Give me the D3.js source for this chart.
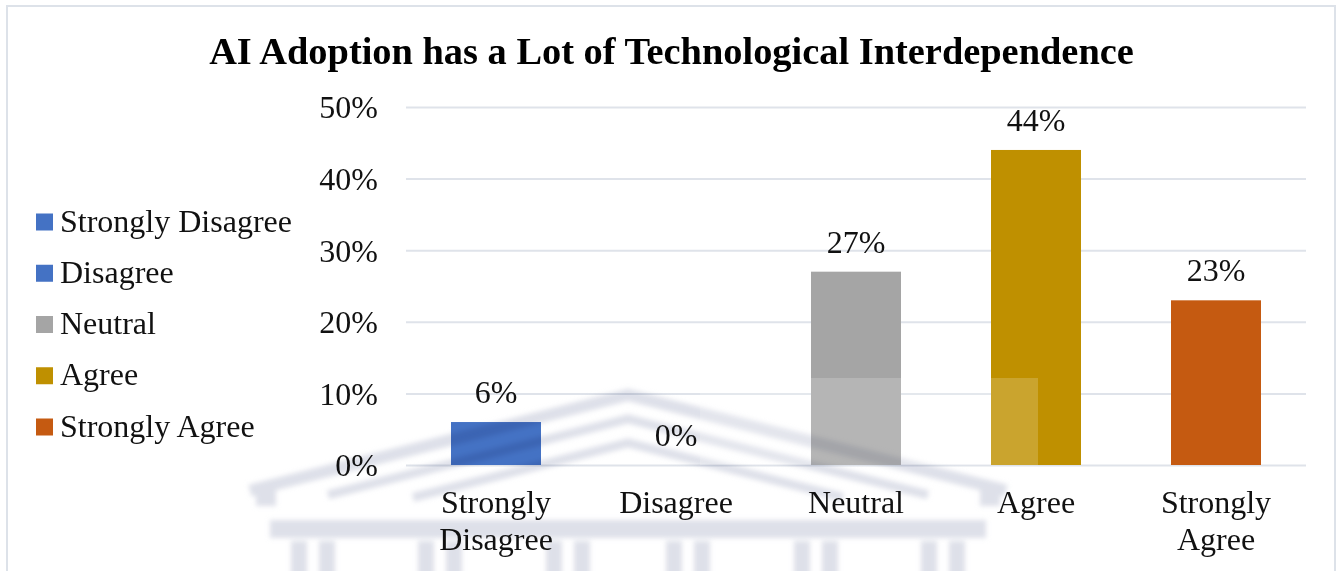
<!DOCTYPE html>
<html>
<head>
<meta charset="utf-8">
<script src="https://cdn.jsdelivr.net/npm/d3@7"></script>
<style>
  html, body { margin: 0; padding: 0; background: #ffffff; }
  svg { display: block; }
  text { font-family: "Liberation Serif", "Times New Roman", serif; }
</style>
</head>
<body>
<svg id="chart" width="1343" height="571"></svg>
<script>
// Survey responses: share of respondents per answer
const categories = ["Strongly Disagree", "Disagree", "Neutral", "Agree", "Strongly Agree"];
const categoryLines = [["Strongly", "Disagree"], ["Disagree"], ["Neutral"], ["Agree"], ["Strongly", "Agree"]];
const shares = [0.06, 0.00, 0.27, 0.44, 0.23];
const barColors = ["#4472C4", "#4472C4", "#A5A5A5", "#BF9000", "#C55A11"];
const yTicks = [0, 0.1, 0.2, 0.3, 0.4, 0.5];
const titleText = "AI Adoption has a Lot of Technological Interdependence";

const FS = 32; // body text size
const svg = d3.select("#chart");

// chart frame
svg.append("rect")
  .attr("x", 7).attr("y", 6).attr("width", 1328).attr("height", 580)
  .attr("fill", "#ffffff").attr("stroke", "#dde2e9").attr("stroke-width", 2);

const plot = { left: 406, right: 1306, top: 107, bottom: 465 };

const x = d3.scaleBand()
  .domain(categories)
  .range([plot.left, plot.right])
  .paddingInner(0.5)
  .paddingOuter(0.25);

const y = d3.scaleLinear()
  .domain([0, 0.5])
  .range([plot.bottom, plot.top]);

const color = d3.scaleOrdinal().domain(categories).range(barColors);
const pct = d3.format(".0%");

// horizontal gridlines + tick labels
const yAxis = d3.axisLeft(y)
  .tickValues(yTicks)
  .tickFormat(pct)
  .tickSize(-(plot.right - plot.left))
  .tickPadding(28);

const gy = svg.append("g")
  .attr("transform", `translate(${plot.left},0)`)
  .call(yAxis);
gy.select(".domain").remove();
gy.selectAll(".tick line").attr("stroke", "#dfe3ea").attr("stroke-width", 2);
gy.selectAll(".tick text")
  .attr("font-family", "'Liberation Serif', 'Times New Roman', serif")
  .attr("font-size", FS)
  .attr("fill", "#111111")
  .attr("dy", "0.34em");

// bars
const data = categories.map((c, i) => ({ cat: c, value: shares[i], lines: categoryLines[i] }));

svg.append("g").selectAll("rect")
  .data(data)
  .join("rect")
  .attr("x", d => x(d.cat))
  .attr("width", x.bandwidth())
  .attr("y", d => y(d.value))
  .attr("height", d => y(0) - y(d.value))
  .attr("fill", d => color(d.cat));

// faint building emblem laid over the lower part of the plot
const defs = svg.append("defs");
defs.append("filter").attr("id", "soft")
  .attr("x", "-10%").attr("y", "-10%").attr("width", "120%").attr("height", "120%")
  .append("feGaussianBlur").attr("stdDeviation", 2.6);
const emblem = svg.append("g")
  .style("mix-blend-mode", "multiply")
  .attr("filter", "url(#soft)")
  .attr("opacity", 0.75);

const ink = "#d3d6e2";
const apexX = 628, slope = 0.253;
[[395, 12, 378], [419, 9, 300], [443, 9, 215]].forEach(([ay, w, half]) => {
  emblem.append("path")
    .attr("d", `M${apexX - half},${ay + half * slope} L${apexX},${ay} L${apexX + half},${ay + half * slope}`)
    .attr("fill", "none").attr("stroke", ink).attr("stroke-width", w)
    .attr("stroke-linejoin", "miter");
});
emblem.append("rect").attr("x", 256).attr("y", 484).attr("width", 20).attr("height", 22).attr("fill", ink);
emblem.append("rect").attr("x", 980).attr("y", 484).attr("width", 20).attr("height", 22).attr("fill", ink);
emblem.append("rect").attr("x", 270).attr("y", 520).attr("width", 716).attr("height", 18).attr("fill", ink);
[-315, -188, -60, 60, 188, 315].forEach(off => {
  const cx = apexX + off;
  emblem.append("rect").attr("x", cx - 22).attr("y", 541).attr("width", 16).attr("height", 40).attr("fill", ink);
  emblem.append("rect").attr("x", cx + 6).attr("y", 541).attr("width", 16).attr("height", 40).attr("fill", ink);
});

// pale patch over the lower bars
svg.append("rect")
  .attr("x", 700).attr("y", 378).attr("width", 338).attr("height", 87)
  .attr("fill", "#ffffff").attr("opacity", 0.18);

// value labels
svg.append("g").selectAll("text")
  .data(data)
  .join("text")
  .attr("x", d => x(d.cat) + x.bandwidth() / 2)
  .attr("y", d => y(d.value) - 19)
  .attr("text-anchor", "middle")
  .attr("font-size", FS)
  .attr("fill", "#111111")
  .text(d => pct(d.value));

// category labels (wrapped)
const xl = svg.append("g").selectAll("text")
  .data(data)
  .join("text")
  .attr("text-anchor", "middle")
  .attr("font-size", FS)
  .attr("fill", "#111111");
xl.selectAll("tspan")
  .data(d => d.lines.map(l => ({ l, cx: x(d.cat) + x.bandwidth() / 2 })))
  .join("tspan")
  .attr("x", t => t.cx)
  .attr("y", (t, i) => 513 + i * 37)
  .text(t => t.l);

// legend
const legend = svg.append("g");
const legendY = d3.scalePoint().domain(categories).range([222, 427]);
categories.forEach(c => {
  legend.append("rect")
    .attr("x", 36).attr("y", legendY(c) - 8.5)
    .attr("width", 17).attr("height", 17)
    .attr("fill", color(c));
  legend.append("text")
    .attr("x", 60).attr("y", legendY(c))
    .attr("dy", "0.3em")
    .attr("font-size", FS)
    .attr("fill", "#111111")
    .text(c);
});

// title
const title = svg.append("text")
  .attr("x", 671.5).attr("y", 64)
  .attr("text-anchor", "middle")
  .attr("font-weight", "bold")
  .attr("font-size", 36)
  .attr("fill", "#000000")
  .text(titleText);
const tw = title.node().getComputedTextLength();
if (tw > 0) title.attr("font-size", 36 * 925 / tw);
</script>
</body>
</html>
